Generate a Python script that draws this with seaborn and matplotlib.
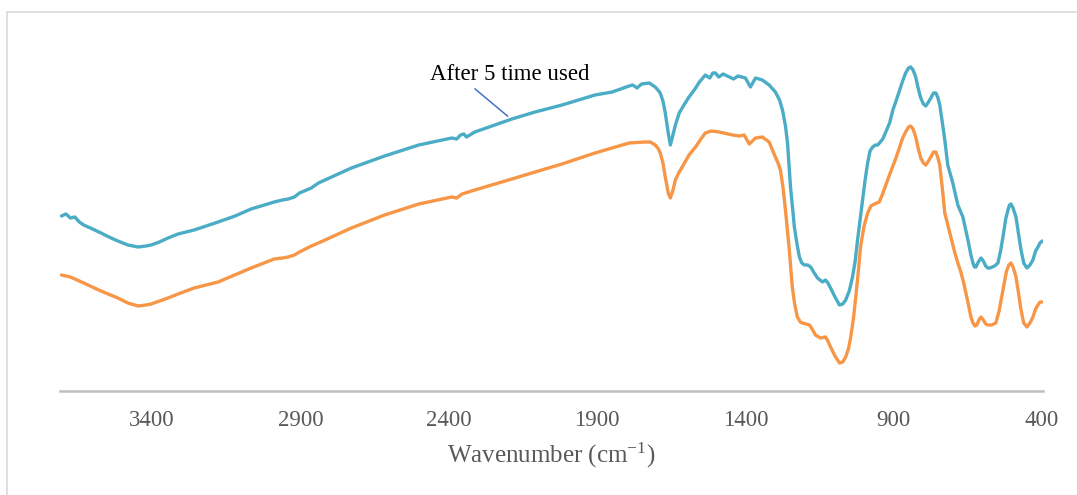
import matplotlib
matplotlib.use("Agg")
import matplotlib.pyplot as plt
import seaborn as sns
import pandas as pd
from matplotlib.patches import Rectangle

# ---------------- data ----------------
wn_blue = [3705, 3690, 3675, 3660, 3645, 3630, 3600, 3572, 3545, 3515, 3481, 3447, 3420, 3403,
           3375, 3346, 3312, 3258, 3177, 3120, 3066, 2988, 2960, 2941, 2920, 2903, 2863, 2839,
           2728, 2616, 2501, 2390, 2373, 2360, 2349, 2340, 2312, 2187, 2109, 2018, 1907, 1849,
           1792, 1780, 1765, 1750, 1724, 1704, 1695, 1687, 1678, 1670, 1660, 1653, 1645, 1636,
           1623, 1605, 1590, 1570, 1555, 1535,
           1520, 1510, 1501, 1490, 1475, 1454, 1440, 1425, 1400, 1383, 1366, 1343, 1320, 1299,
           1285, 1275, 1265, 1258, 1248, 1240, 1235, 1225, 1218, 1210, 1201, 1190, 1180, 1168,
           1157, 1140, 1130, 1122, 1113, 1098, 1083, 1072, 1062, 1050, 1039, 1030, 1022, 1012,
           1005, 997, 988, 980, 971, 962, 954, 937, 914, 903, 890, 880, 870, 860, 850, 843, 835,
           826, 818, 809, 800, 792, 783, 775, 766, 758, 752, 745, 736, 728,
           718, 701, 684, 667, 650, 640, 633, 628, 623, 615, 606, 598, 590, 583, 576, 560, 549,
           540, 532, 522, 515, 510, 505, 498, 488, 480, 471, 462, 451, 441, 431, 422, 414, 407,
           400]
t_blue = [175, 177, 173, 174, 169, 166, 162, 158, 154, 150, 146, 144, 145, 146,
          149, 153, 157, 161, 169, 175, 182, 189, 191, 192, 194, 198, 203, 208,
          223, 235, 246, 253, 252, 256, 257, 254, 259, 272, 279, 286, 296, 299,
          305, 306, 303, 307, 308, 304, 301, 298, 290, 278, 258, 246, 255, 266,
          278, 287, 294, 302, 309, 316,
          313, 318, 318, 314, 317, 314, 312, 315, 313, 304, 313, 311, 306, 299,
          291, 281, 265, 248, 204, 180, 164, 145, 134, 128, 126, 126, 124, 118,
          113, 109, 111, 108, 103, 94, 86, 87, 91, 100, 114, 130, 151, 175,
          191, 210, 228, 240, 244, 246, 246, 252, 268, 281, 292, 301, 310, 318, 323, 324, 321,
          314, 303, 293, 287, 285, 289, 293, 298, 298, 294, 286, 268, 251,
          226, 208, 186, 174, 151, 136, 128, 124, 124, 129, 133, 130, 125, 123, 123, 125, 128,
          140, 154, 173, 181, 186, 187, 183, 174, 158, 141, 128, 123, 126, 131, 140, 144, 148,
          150]

wn_orange = [3705, 3675, 3630, 3572, 3515, 3481, 3447, 3420, 3403, 3346, 3312, 3258, 3177,
             3066, 2988, 2960, 2941, 2920, 2903, 2863, 2839, 2728, 2616, 2501, 2390, 2373,
             2355, 2312, 2187, 2109, 2018, 1907, 1849, 1792, 1738, 1720, 1704, 1695, 1687,
             1678, 1670, 1660, 1653, 1645, 1636, 1625, 1613, 1590, 1568, 1550, 1535, 1515,
             1488, 1444, 1420, 1404, 1387, 1366, 1343, 1320, 1299, 1290, 1282, 1273,
             1265, 1258, 1252, 1242, 1234, 1225, 1215, 1208, 1195, 1184, 1173, 1164, 1147, 1130,
             1122, 1113, 1098, 1083, 1072, 1062, 1052, 1045, 1036,
             1028, 1020, 1012, 1000, 988, 977, 965, 957, 949, 939, 929, 912, 895, 880, 870, 860,
             850, 843, 835, 826, 818, 809, 800, 792, 783, 775, 766, 758, 752, 745,
             736, 728, 711, 694, 684, 674, 665, 657, 648, 640, 633, 626, 620, 613, 606, 598, 590,
             583, 570, 556, 545, 532, 520, 512, 505, 498, 488, 480, 471, 462, 451, 441, 431,
             422, 414, 407, 400]
t_orange = [116, 114, 108, 100, 93, 88, 85, 86, 87, 93, 97, 103, 109,
            123, 132, 133, 134, 136, 139, 145, 148, 163, 176, 187, 194, 193,
            197, 201, 212, 219, 227, 238, 243, 248, 249, 249, 246, 243, 238,
            228, 214, 198, 193, 200, 211, 218, 224, 236, 244, 252, 258, 260,
            259, 256, 255, 256, 247, 253, 254, 249, 234, 228, 221, 203,
            181, 160, 141, 104, 87, 74, 69, 68, 67, 66, 61, 56, 53, 54,
            50, 44, 35, 28, 29, 34, 43, 54, 72,
            94, 118, 144, 165, 178, 185, 187, 188, 189, 196, 204, 218, 231, 244, 253, 259,
            264, 265, 262, 254, 243, 233, 228, 226, 230, 234, 239, 239, 234, 226,
            202, 178, 158, 138, 128, 119, 109, 98, 86, 74, 68, 65, 66, 71, 74, 71, 67,
            66, 66, 68, 80, 101, 120, 126, 128, 124, 114, 99, 81, 68, 64, 68, 74,
            82, 86, 89, 89]

tick_values = [3400, 2900, 2400, 1900, 1400, 900, 400]
x_label = r"Wavenumber (cm$^{-1}$)"
annotation_text = "After 5 time used"

BLUE = "#4BACC6"
ORANGE = "#F79646"

# ---------------- styling ----------------
sns.set_theme(style="white")
plt.rcParams["font.family"] = ["Liberation Serif", "DejaVu Serif"]
plt.rcParams["mathtext.fontset"] = "custom"
plt.rcParams["mathtext.rm"] = "Liberation Serif"
plt.rcParams["mathtext.it"] = "Liberation Serif:italic"

fig = plt.figure(figsize=(10.77, 4.95), dpi=100)
W, H = 1077, 495
ax = fig.add_axes([60 / W, (H - 391) / H, (1043 - 60) / W, (391 - 20) / H])

df_orange = pd.DataFrame({"wn": wn_orange, "t": t_orange})
df_blue = pd.DataFrame({"wn": wn_blue, "t": t_blue})
line_kw = dict(lw=2.4, estimator=None, solid_joinstyle="round", solid_capstyle="round")
sns.lineplot(data=df_orange, x="wn", y="t", color=ORANGE, ax=ax, **line_kw)
sns.lineplot(data=df_blue, x="wn", y="t", color=BLUE, ax=ax, **line_kw)

ax.set_xlim(3710, 397)
ax.set_ylim(0, 371)
ax.set_xticks(tick_values)
ax.set_xticklabels([str(v) for v in tick_values])
ax.tick_params(axis="x", length=0, pad=14, labelsize=16.5, labelcolor="#595959")
ax.set_yticks([])
ax.set_ylabel("")
ax.set_xlabel(x_label, fontsize=18, color="#595959", labelpad=7)

for s in ["top", "right", "left"]:
    ax.spines[s].set_visible(False)
ax.spines["bottom"].set_color("#BFBFBF")
ax.spines["bottom"].set_linewidth(1.8)

# annotation with leader line
ax.annotate("", xy=(2194, 273), xytext=(2319, 304),
            arrowprops=dict(arrowstyle="-", color="#4472C4", lw=1.1))
ax.text(2194, 316, annotation_text, ha="center", va="center", fontsize=16.5, color="black")

# outer chart frame
fig.add_artist(Rectangle((7 / W, -0.1), 1.2, (H - 12) / H + 0.1, fill=False,
                         edgecolor="#D9D9D9", lw=1.2, transform=fig.transFigure))

fig.savefig("out.png", dpi=100)
